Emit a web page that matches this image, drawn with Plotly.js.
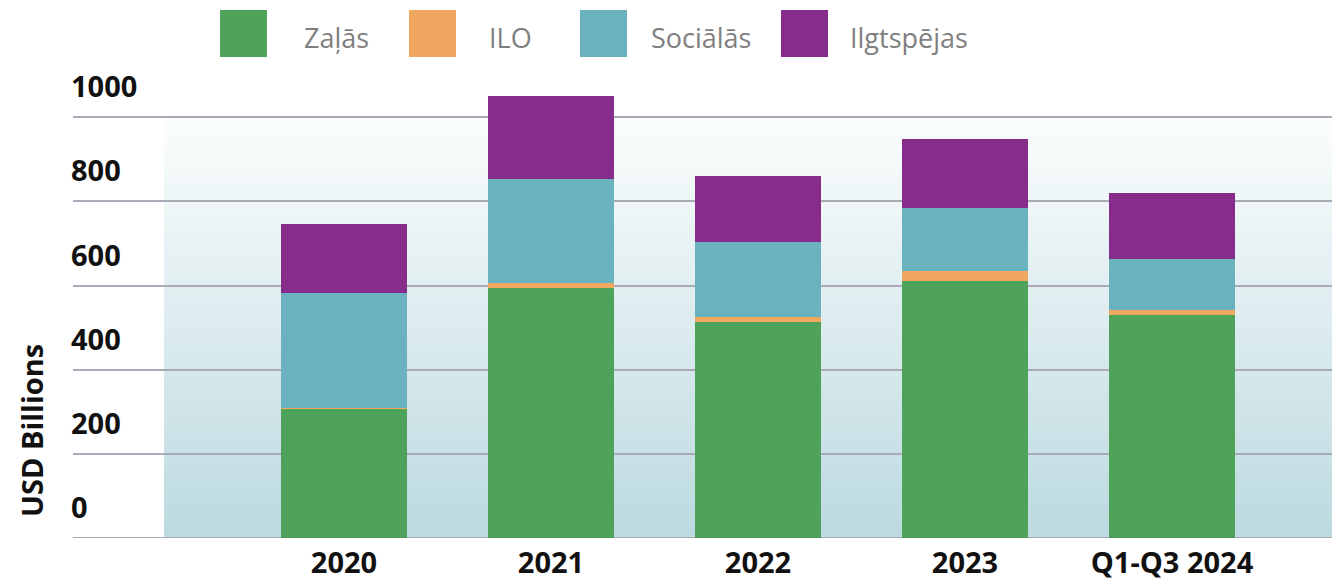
<!DOCTYPE html>
<html>
<head>
<meta charset="utf-8">
<script src="https://cdn.plot.ly/plotly-3.0.1.min.js"></script>
<style>
  html, body { margin: 0; padding: 0; background: #fff; }
  #chart { width: 1332px; height: 580px; }
</style>
</head>
<body>
<div id="chart"></div>
<script>
var periods = ["2020", "2021", "2022", "2023", "Q1-Q3 2024"];
var seriesNames = ["Zaļās", "ILO", "Sociālās", "Ilgtspējas"];
var seriesColors = ["#4fa25a", "#f0a860", "#6ab2be", "#862d8b"];

// USD billions
var green = [306, 595, 513, 611, 530];
var ilo = [4, 10, 11, 23, 11];
var social = [273, 249, 180, 151, 122];
var sustainability = [163, 197, 157, 163, 156];

var yTicks = [0, 200, 400, 600, 800, 1000];

var W = 1332, H = 580;
var M = { l: 73, r: 0, t: 33, b: 42 };
var plotW = W - M.l - M.r;
var plotH = H - M.t - M.b;

var pxToPaperX = function(px) { return (px - M.l) / plotW; };
var pxToPaperY = function(py) { return (H - M.b - py) / plotH; };

var TICK_FONT = { family: "Open Sans, sans-serif", size: 29, color: "#111", weight: 700 };
var GRID_COLOR = "#a9aab5";

var bars = [green, ilo, social, sustainability].map(function(values, i) {
  return {
    type: "bar",
    name: seriesNames[i],
    x: periods,
    y: values,
    marker: { color: seriesColors[i], line: { width: 0 } },
    showlegend: false,
    hoverinfo: "skip"
  };
});

// background gradient made of overlapping bands, white-ish at the top, pale teal at the bottom
var shapes = [];
var topColor = [251, 253, 253];
var bottomColor = [188, 218, 224];
var steps = 50;
for (var s = 0; s < steps; s++) {
  var f = (s + 0.5) / steps;
  var c = topColor.map(function(v, k) { return Math.round(v + (bottomColor[k] - v) * f); });
  shapes.push({
    type: "rect", layer: "below", xref: "paper", yref: "y",
    x0: pxToPaperX(164), x1: 1,
    y0: Math.max(0, 1000 - (s + 1) * 1000 / steps - 8), y1: 1000 - s * 1000 / steps,
    fillcolor: "rgb(" + c.join(",") + ")", line: { width: 0 }
  });
}
// baseline at zero
shapes.push({
  type: "line", layer: "below", xref: "paper", yref: "y",
  x0: 0, x1: 1, y0: 0, y1: 0,
  line: { color: GRID_COLOR, width: 2 }
});

// legend: big squares with grey labels
var legendSquares = [220, 409, 580, 781];
var legendTexts = [302, 487, 649, 848];
var annotations = [];
seriesNames.forEach(function(name, i) {
  shapes.push({
    type: "rect", xref: "paper", yref: "paper",
    x0: pxToPaperX(legendSquares[i]), x1: pxToPaperX(legendSquares[i] + 47),
    y0: pxToPaperY(57), y1: pxToPaperY(10),
    fillcolor: seriesColors[i], line: { width: 0 }
  });
  annotations.push({
    xref: "paper", yref: "paper",
    x: pxToPaperX(legendTexts[i]), y: pxToPaperY(37),
    xanchor: "left", yanchor: "middle", showarrow: false,
    text: name,
    font: { family: "Open Sans, sans-serif", size: 27, color: "#7f7f7f" }
  });
});

annotations.push({
  xref: "paper", yref: "paper",
  x: pxToPaperX(31), y: pxToPaperY(431),
  xanchor: "center", yanchor: "middle", showarrow: false,
  textangle: -90,
  text: "USD Billions",
  font: { family: "Open Sans, sans-serif", size: 29, color: "#111", weight: 700 }
});

var layout = {
  width: W,
  height: H,
  margin: M,
  barmode: "stack",
  bargap: 0.39,
  paper_bgcolor: "#ffffff",
  plot_bgcolor: "#ffffff",
  showlegend: false,
  xaxis: {
    type: "category",
    range: [-1.309, 4.773],
    showgrid: false,
    zeroline: false,
    showline: false,
    ticks: "",
    ticklabelstandoff: 5,
    tickfont: TICK_FONT,
    fixedrange: true
  },
  yaxis: {
    range: [0, 1200],
    tickvals: yTicks,
    ticktext: yTicks.map(String),
    ticklabelposition: "inside",
    ticklabelshift: -30,
    ticklabelstandoff: -5,
    showgrid: true,
    gridcolor: GRID_COLOR,
    gridwidth: 2,
    zeroline: false,
    showline: false,
    ticks: "",
    tickfont: TICK_FONT,
    fixedrange: true
  },
  shapes: shapes,
  annotations: annotations
};

Plotly.newPlot(document.getElementById("chart"), bars, layout, {
  displayModeBar: false,
  staticPlot: true
});
</script>
</body>
</html>
